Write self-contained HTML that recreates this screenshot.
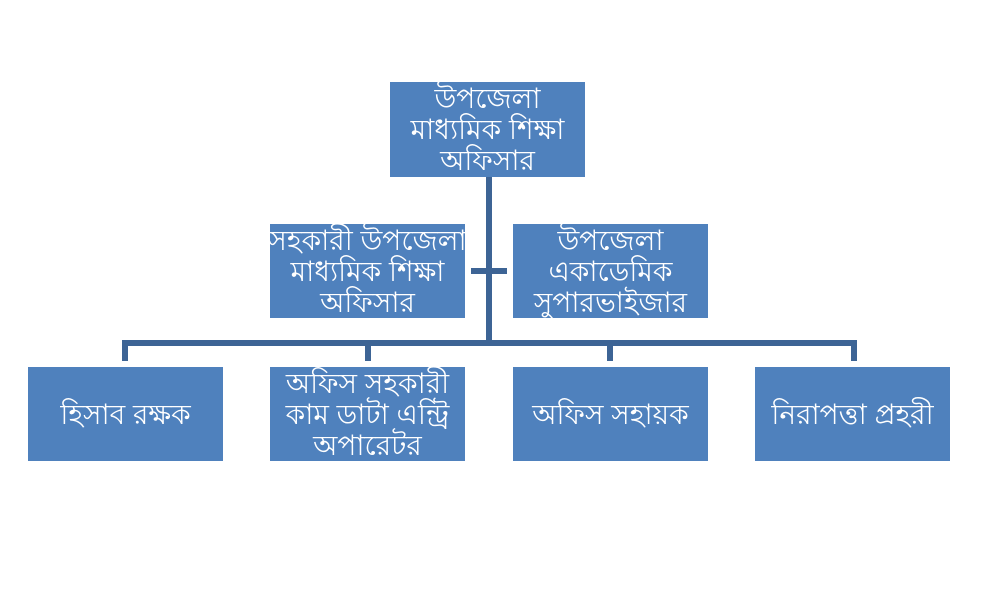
<!DOCTYPE html>
<html><head><meta charset="utf-8"><style>
body{margin:0;width:985px;height:606px;background:#fff;position:relative;overflow:hidden;font-family:"Liberation Sans",sans-serif}
.b{position:absolute;background:#4f81bd;color:#fff;display:flex;align-items:center;justify-content:center;text-align:center;font-size:28px;line-height:31px;width:195px;height:94px;white-space:nowrap}
.l{position:absolute;background:#3d6495}
</style></head><body>
<div class="l" style="left:486px;top:177px;width:6px;height:169px"></div>
<div class="l" style="left:122px;top:340px;width:735px;height:6px"></div>
<div class="l" style="left:471px;top:268px;width:36px;height:6px"></div>
<div class="l" style="left:122px;top:340px;width:6px;height:21px"></div>
<div class="l" style="left:365px;top:340px;width:6px;height:21px"></div>
<div class="l" style="left:607px;top:340px;width:6px;height:21px"></div>
<div class="l" style="left:851px;top:340px;width:6px;height:21px"></div>
<div class="b" style="left:390px;top:82px;height:95px">উপজেলা<br>মাধ্যমিক শিক্ষা<br>অফিসার</div>
<div class="b" style="left:270px;top:224px">সহকারী উপজেলা<br>মাধ্যমিক শিক্ষা<br>অফিসার</div>
<div class="b" style="left:513px;top:224px">উপজেলা<br>একাডেমিক<br>সুপারভাইজার</div>
<div class="b" style="left:28px;top:367px">হিসাব রক্ষক</div>
<div class="b" style="left:270px;top:367px">অফিস সহকারী<br>কাম ডাটা এন্ট্রি<br>অপারেটর</div>
<div class="b" style="left:513px;top:367px">অফিস সহায়ক</div>
<div class="b" style="left:755px;top:367px">নিরাপত্তা প্রহরী</div>
</body></html>
